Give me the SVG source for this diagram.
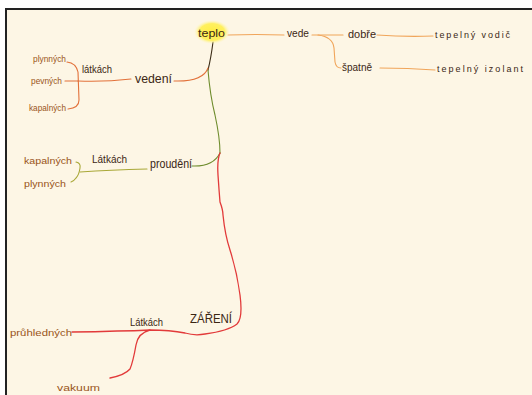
<svg xmlns="http://www.w3.org/2000/svg" width="532" height="395" viewBox="0 0 532 395">
<defs>
<radialGradient id="hl" cx="50%" cy="50%" r="50%">
<stop offset="0" stop-color="#ffee44"/>
<stop offset="0.7" stop-color="#fff060"/>
<stop offset="1" stop-color="#fff6c0" stop-opacity="0"/>
</radialGradient>
</defs>
<style>
text{font-family:"Liberation Sans","DejaVu Sans",sans-serif;font-size:10px;fill:#3b2614}
.leaf{fill:#9a5520;font-size:9px}
.big{font-size:12px}
.sm{font-size:9px}
.ln{fill:none;stroke-width:1.1;stroke-linecap:round}
.or{stroke:#f0a55a}
.vd{stroke:#e2713a}
.gr{stroke:#6e8c2c}
.rd{stroke:#e23a3a;stroke-width:1.3}
.ol{stroke:#a9a838}
.dk{stroke:#3a2a14}
</style>
<rect x="0" y="0" width="532" height="395" fill="#ffffff"/>
<rect x="6" y="9" width="526" height="386" fill="#fdf6e5"/>
<line x1="6" y1="9" x2="6" y2="395" stroke="#222" stroke-width="2"/>
<line x1="5" y1="9" x2="532" y2="9" stroke="#222" stroke-width="2"/>

<g id="connectors">
<path class="ln or" d="M228,35 Q256,34 284,35"/>
<path class="ln or" d="M312,35 L343,35"/>
<path class="ln or" d="M318,35 Q333,37 334,48 L335,62 Q336,68 341,68"/>
<path class="ln or" d="M377,35 Q405,37 433,36"/>
<path class="ln or" d="M380,68 Q408,68 435,70"/>
<path class="ln dk" d="M213,42 Q211,58 208,70"/>
<path class="ln vd" d="M208,68 Q203,82 174,81"/>
<path class="ln vd" d="M131,79 Q105,82 78,81"/>
<path class="ln vd" d="M65,81 L78,81"/>
<path class="ln vd" d="M67,62 Q76,63 78,72 L79,100 Q79,108 68,109"/>
<path class="ln gr" d="M208,70 Q210,95 215,115 Q220,138 220,153"/>
<path class="ln gr" d="M220,153 Q213,167 192,166"/>
<path class="ln ol" d="M147,169 Q110,170 80,172"/>
<path class="ln ol" d="M76,162 Q81,163 80,168 Q79,175 76,178 Q74,181 71,182"/>
<path class="ln rd" d="M220,153 Q217,160 218,175 Q219,190 220,202 Q223,210 223,215 Q225,235 230,250 Q237,272 240,295 Q243,318 237,324 Q228,331 205,334 Q195,336 185,333 Q170,330 150,330 Q135,331 117,331 Q95,332 72,332"/>
<path class="ln rd" d="M150,330 Q138,333 136,345 Q133,362 130,369 Q125,375 110,378"/>
</g>

<g id="teplo">
<ellipse cx="212" cy="32" rx="18" ry="12" fill="url(#hl)"/>
<text x="198" y="37" textLength="27" lengthAdjust="spacingAndGlyphs">teplo</text>
</g>
<g id="vede"><text x="287" y="37" textLength="22" lengthAdjust="spacingAndGlyphs">vede</text></g>
<g id="dobre"><text x="348" y="38" textLength="28" lengthAdjust="spacingAndGlyphs">dobře</text></g>
<g id="spatne"><text x="342" y="71" textLength="30" lengthAdjust="spacingAndGlyphs">špatně</text></g>
<g id="vodic"><text class="sm" x="435" y="38" textLength="75" lengthAdjust="spacing">tepelný  vodič</text></g>
<g id="izolant"><text class="sm" x="437" y="72" textLength="86" lengthAdjust="spacing">tepelný  izolant</text></g>

<g id="vedeni"><text class="big" x="135" y="83" textLength="37" lengthAdjust="spacingAndGlyphs">vedení</text></g>
<g id="latkach1"><text x="82" y="73" textLength="30" lengthAdjust="spacingAndGlyphs">látkách</text></g>
<g id="plynnych1"><text class="leaf" x="33" y="62" textLength="33" lengthAdjust="spacingAndGlyphs">plynných</text></g>
<g id="pevnych"><text class="leaf" x="31" y="84" textLength="31" lengthAdjust="spacingAndGlyphs">pevných</text></g>
<g id="kapalnych1"><text class="leaf" x="29" y="111" textLength="37" lengthAdjust="spacingAndGlyphs">kapalných</text></g>

<g id="proudeni"><text class="big" x="150" y="168" textLength="42" lengthAdjust="spacingAndGlyphs">proudění</text></g>
<g id="latkach2"><text x="92" y="163" textLength="35" lengthAdjust="spacingAndGlyphs">Látkách</text></g>
<g id="kapalnych2"><text class="leaf" x="24" y="164" textLength="48" lengthAdjust="spacingAndGlyphs">kapalných</text></g>
<g id="plynnych2"><text class="leaf" x="24" y="187" textLength="42" lengthAdjust="spacingAndGlyphs">plynných</text></g>

<g id="zareni"><text class="big" x="190" y="323" textLength="42" lengthAdjust="spacingAndGlyphs">ZÁŘENÍ</text></g>
<g id="latkach3"><text x="130" y="326" textLength="33" lengthAdjust="spacingAndGlyphs">Látkách</text></g>
<g id="pruhlednych"><text class="leaf" x="10" y="336" textLength="62" lengthAdjust="spacingAndGlyphs">průhledných</text></g>
<g id="vakuum"><text class="leaf" x="57" y="391" textLength="43" lengthAdjust="spacingAndGlyphs">vakuum</text></g>
</svg>
